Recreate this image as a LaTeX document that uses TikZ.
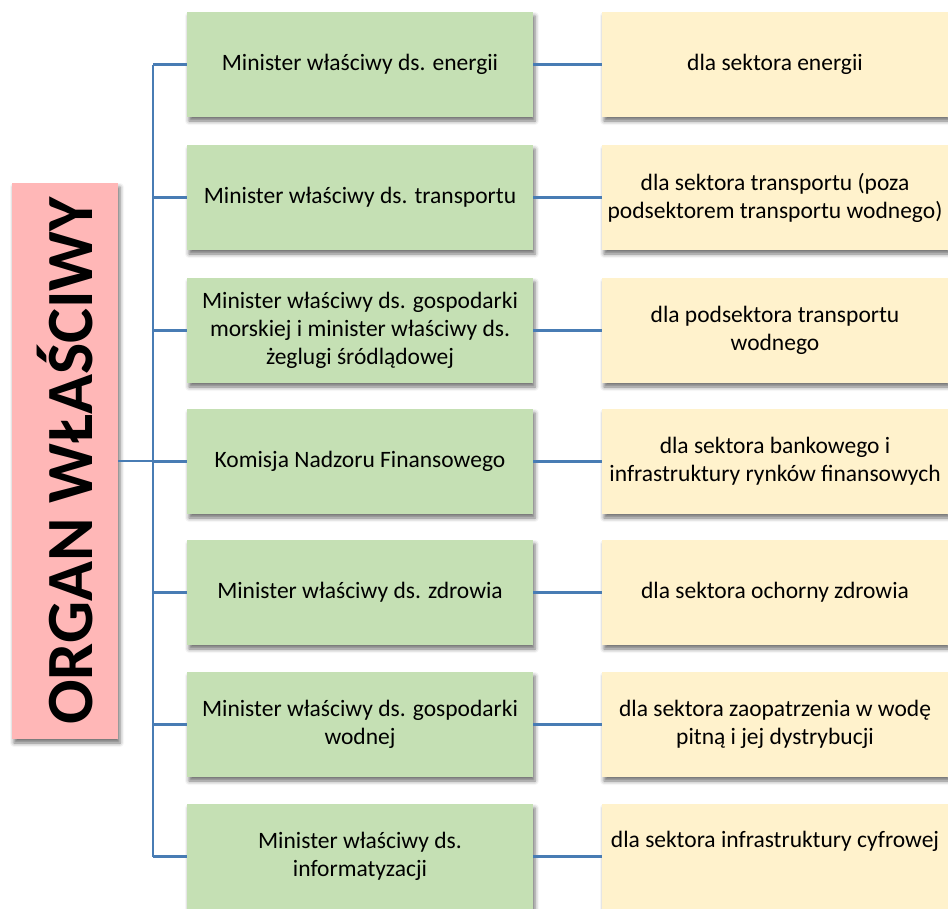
\documentclass[tikz,border=0pt]{standalone}
\usepackage{fontspec}
\setmainfont{Carlito}
\usetikzlibrary{shadows.blur}
\definecolor{orgfill}{RGB}{255,183,183}
\definecolor{minfill}{RGB}{197,224,180}
\definecolor{secfill}{RGB}{255,242,204}
\definecolor{linkcol}{RGB}{72,124,180}
\tikzset{
  boxshadow/.style={blur shadow={shadow xshift=2pt, shadow yshift=-4pt, shadow blur radius=4pt, shadow opacity=55}},
  orgbox/.style={boxshadow, fill=orgfill, minimum width=106pt, minimum height=556pt, inner sep=0pt},
  boxtext/.style={font=\fontsize{23.5}{28}\selectfont},
  minbox/.style={boxshadow, fill=minfill, minimum width=346pt, minimum height=105pt, inner sep=0pt, align=center, boxtext},
  secbox/.style={boxshadow, fill=secfill, minimum width=346pt, minimum height=105pt, inner sep=0pt, align=center, boxtext},
  link/.style={draw=linkcol, line width=2.4pt}
}
\begin{document}
\begin{tikzpicture}[x=1pt,y=-1pt]
\useasboundingbox (0,0) rectangle (948,908);
\node[orgbox] (org) at (65,461) {\rotatebox{90}{\fontsize{66}{72}\selectfont\bfseries ORGAN WŁAŚCIWY}};

\node[minbox] (g1) at (360,64.5) {Minister właściwy ds. energii};
\node[minbox] (g2) at (360,197.5) {Minister właściwy ds. transportu};
\node[minbox] (g3) at (360,330.5) {Minister właściwy ds. gospodarki\\morskiej i minister właściwy ds.\\żeglugi śródlądowej};
\node[minbox] (g4) at (360,461.5) {Komisja Nadzoru Finansowego};
\node[minbox] (g5) at (360,592.5) {Minister właściwy ds. zdrowia};
\node[minbox] (g6) at (360,724.5) {Minister właściwy ds. gospodarki\\wodnej};
\node[minbox] (g7) at (360,856.5) {Minister właściwy ds.\\informatyzacji};

\node[secbox] (s1) at (775,64.5) {dla sektora energii};
\node[secbox] (s2) at (775,197.5) {dla sektora transportu (poza\\podsektorem transportu wodnego)};
\node[secbox] (s3) at (775,330.5) {dla podsektora transportu\\wodnego};
\node[secbox] (s4) at (775,461.5) {dla sektora bankowego i\\infrastruktury rynków finansowych};
\node[secbox] (s5) at (775,592.5) {dla sektora ochorny zdrowia};
\node[secbox] (s6) at (775,724.5) {dla sektora zaopatrzenia w wodę\\pitną i jej dystrybucji};
\node[secbox] (s7) at (775,856.5) {};
\node[boxtext, inner sep=0pt] (s7t) at (775,841) {dla sektora infrastruktury cyfrowej};

\foreach \i/\yy in {1/64.5,2/197.5,3/330.5,4/461.5,5/592.5,6/724.5,7/856.5}{
  \coordinate (j\i) at (153,\yy);
}
\draw[link] (j1) -- (j7);
\draw[link] (org.east) -- (org.east -| j1);
\foreach \i in {1,...,7}{
  \draw[link] (j\i) -- (g\i.west);
  \draw[link] (g\i.east) -- (s\i.west);
}
\end{tikzpicture}
\end{document}
